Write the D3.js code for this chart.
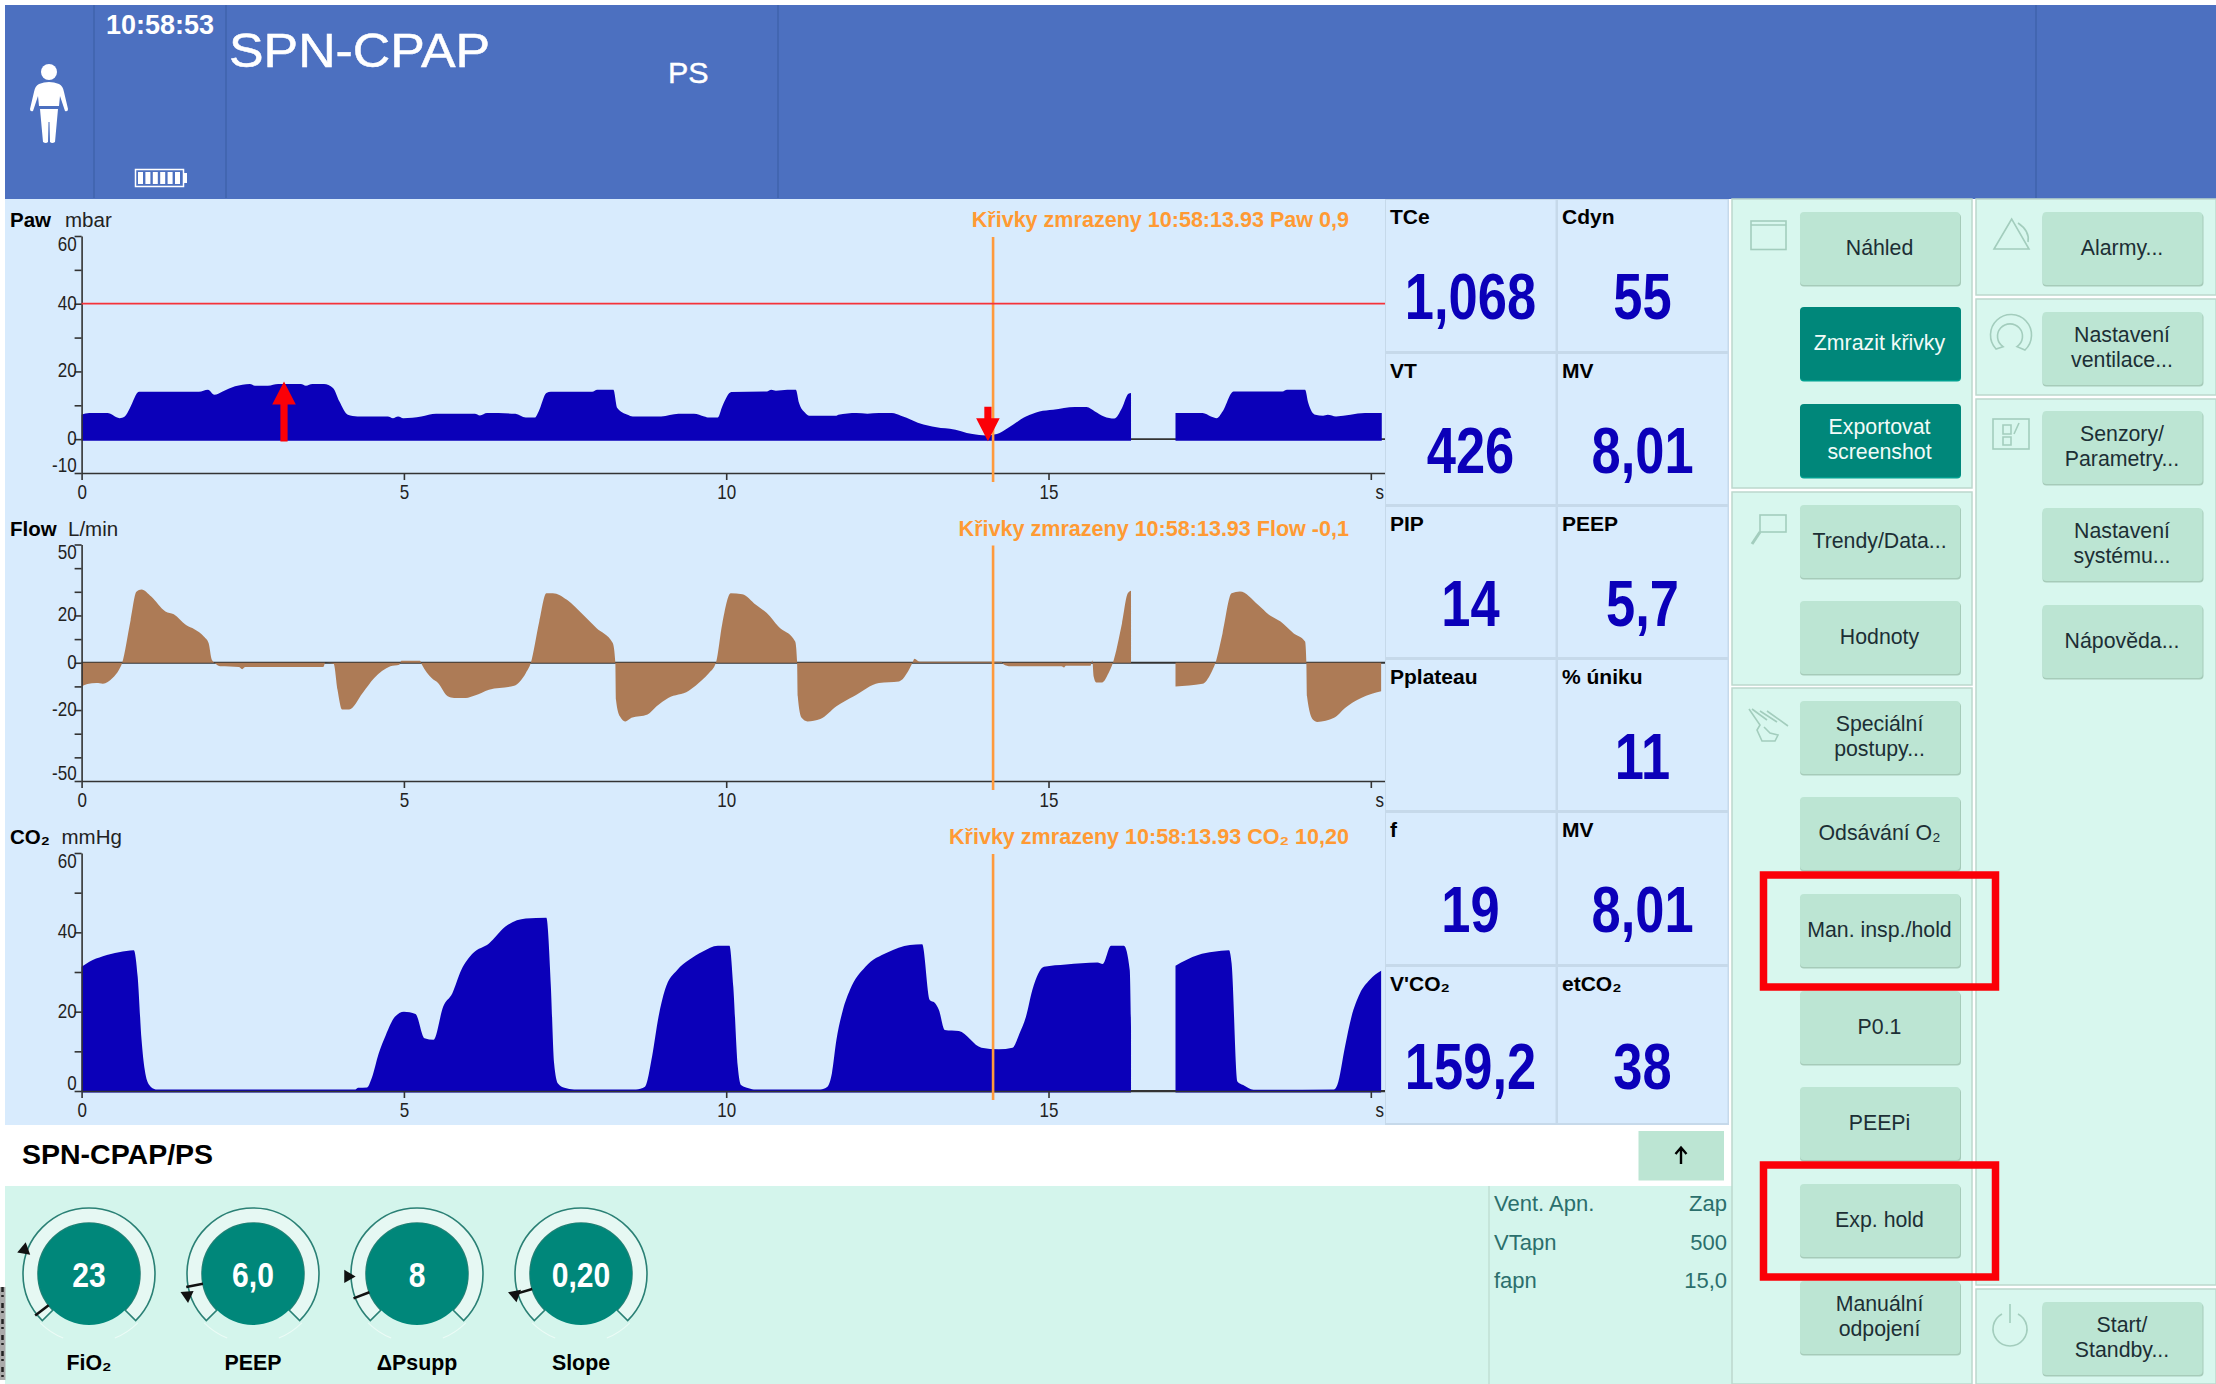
<!DOCTYPE html>
<html lang="cs">

<head>
  <meta charset="utf-8">
  <title>SPN-CPAP</title>
  <style>
    body {
      margin: 0;
      background: #fff;
    }

    svg {
      display: block;
      font-family: "Liberation Sans", Arial, sans-serif;
    }

    .tick text {
      font-family: "Liberation Sans", Arial, sans-serif;
      font-size: 20px;
      fill: #222;
    }

    .tick line,
    .domain {
      stroke: #333;
      stroke-width: 1.6;
    }
  </style>
</head>

<body>
  <div id="screen"></div>

  <script src="https://d3js.org/d3.v7.min.js"></script>
  <script>
    // Waveforms, null marks the gap in the recording
    var pawTimes = [0, .12, .40, .59, .67, .75, .89, 1.82, 1.96, 2.06, 2.18, 2.38, 2.61, 2.69, 2.89, 3.05, 3.40, 3.48, 3.58, 3.76, 3.90, 4.00, 4.13, 4.28, 4.75, 4.83, 4.91, 4.99, 5.27, 5.50, 6.10, 6.18, 6.29, 6.73, 6.89, 7.03, 7.09, 7.21, 7.28, 7.92, 8.00, 8.25, 8.31, 8.47, 8.55, 8.99, 9.26, 9.50, 9.66, 9.73, 9.87, 9.94, 10.08, 10.63, 10.70, 10.77, 10.95, 11.08, 11.13, 11.22, 11.29, 11.71, 11.74, 12.02, 12.19, 12.37, 12.57, 12.71, 13.06, 13.33, 13.47, 13.82, 14.03, 14.20, 14.37, 14.65, 14.86, 15.07, 15.41, 15.59, 15.72, 15.86, 16.02, 16.14, 16.24, 16.28, 16.29, 16.96, 16.97, 17.39, 17.52, 17.61, 17.70, 17.87, 18.63, 18.70, 18.98, 19.03, 19.14, 19.26, 19.33, 19.46, 19.91, 20.17];
    var pawValues = [7.2, 7.7, 7.7, 6.2, 6.7, 9.2, 14.0, 14.0, 14.6, 13.1, 14.0, 15.6, 16.3, 15.8, 15.8, 16.3, 16.3, 15.8, 16.3, 16.3, 15.1, 11.1, 7.2, 6.7, 6.7, 6.2, 6.7, 6.2, 6.7, 7.5, 7.5, 7.0, 7.7, 7.5, 6.4, 6.4, 8.2, 13.6, 14.0, 14.0, 14.6, 14.6, 9.2, 7.2, 6.7, 6.7, 7.5, 7.5, 6.7, 6.4, 6.4, 9.7, 13.9, 14.1, 14.6, 14.3, 14.6, 14.6, 10.7, 7.9, 6.9, 6.9, 7.2, 7.7, 7.5, 7.7, 7.7, 6.9, 4.3, 3.3, 3.1, 1.5, 1.1, 1.5, 3.3, 6.7, 8.2, 8.7, 9.5, 9.5, 8.2, 6.7, 6.1, 9.2, 13.4, 13.6, null, null, 7.7, 7.7, 6.7, 6.2, 8.2, 14.1, 14.1, 14.6, 14.6, 10.7, 7.2, 6.9, 7.2, 6.7, 7.7, 7.7];

    var flowTimes = [0, .09, .23, .33, .48, .58, .63, .76, .85, .93, 1.08, 1.30, 1.43, 1.62, 1.75, 1.90, 1.97, 2.02, 2.08, 2.15, 2.44, 2.49, 2.54, 3.75, 3.78, 3.91, 3.97, 4.04, 4.15, 4.36, 4.54, 4.79, 4.93, 4.96, 5.25, 5.28, 5.43, 5.53, 5.68, 5.78, 5.96, 6.10, 6.32, 6.71, 6.89, 6.97, 7.10, 7.21, 7.31, 7.53, 7.78, 7.99, 8.24, 8.28, 8.29, 8.35, 8.44, 8.53, 8.78, 8.92, 9.10, 9.42, 9.63, 9.73, 9.84, 9.94, 10.07, 10.25, 10.46, 10.63, 10.81, 11.07, 11.10, 11.11, 11.17, 11.26, 11.46, 11.71, 11.98, 12.37, 12.68, 12.82, 12.89, 12.92, 13.00, 14.27, 14.30, 14.41, 15.20, 15.24, 15.27, 15.65, 15.68, 15.70, 15.74, 15.83, 15.93, 16.00, 16.14, 16.23, 16.28, 16.29, 16.96, 16.97, 17.39, 17.52, 17.59, 17.70, 17.84, 17.97, 18.25, 18.42, 18.60, 18.80, 18.98, 19.00, 19.01, 19.10, 19.17, 19.43, 19.60, 19.85, 20.16];
    var flowValues = [-10, -9, -8.6, -8.9, -6.5, -3, 0, 18, 30, 31, 28, 21.7, 20.5, 16, 14.2, 11, 8.3, 1.3, -.4, -1.5, -1.8, -2.7, -1.8, -1.8, 0, -.4, -11.4, -19.8, -19.8, -12.8, -6.5, -1.5, -.8, .8, .8, -.8, -6.5, -8.6, -14.2, -14.9, -14.9, -13.9, -11.4, -9.7, -4.4, 0, 17.4, 29.4, 29.4, 26.6, 20.3, 14.6, 8.3, 0, -15.6, -22.6, -24.8, -23.3, -21.9, -18.4, -14.9, -11.8, -7.2, -4.4, 0, 16.7, 29.4, 29, 24.5, 21, 15.3, 9, 0, -14.2, -23.3, -24.8, -23.8, -18.4, -14.2, -8.6, -7.9, -3.7, 0, 1.7, .4, .4, -.6, -1.5, -1.5, -2, -1.3, -1.3, 1, -5.8, -8.3, -8.3, -4.4, 0, 16.7, 29.4, 30.4, null, null, -10, -8.9, -4.4, 0, 12.5, 29.4, 30.1, 24.5, 20.3, 17.4, 12.5, 9, 0, -14.2, -24, -25, -23.3, -19.1, -14.9, -12.1];

    var co2Times = [0, .12, .33, .58, .81, .87, .93, .98, 1.05, 1.15, 4.25, 4.29, 4.43, 4.50, 4.61, 4.72, 4.86, 5.00, 5.18, 5.32, 5.46, 5.61, 5.75, 5.89, 6.07, 6.32, 6.57, 6.89, 7.21, 7.28, 7.33, 7.39, 7.49, 7.64, 8.60, 8.74, 8.85, 8.95, 9.05, 9.24, 9.42, 9.63, 9.87, 10.05, 10.11, 10.18, 10.23, 10.32, 10.43, 11.46, 11.57, 11.64, 11.71, 11.81, 11.92, 12.16, 12.50, 12.85, 13.04, 13.16, 13.23, 13.30, 13.39, 13.61, 13.96, 14.23, 14.44, 14.55, 14.65, 14.75, 14.93, 15.27, 15.76, 15.84, 15.97, 16.17, 16.26, 16.28, 16.29, 16.96, 16.97, 17.32, 17.56, 17.80, 17.84, 17.93, 18.02, 18.18, 19.43, 19.48, 19.60, 19.70, 19.83, 19.98, 20.16];
    var co2Values = [31.3, 32.6, 34, 35, 35.5, 28.8, 12.9, 5.3, 1.5, .4, .4, .8, .9, 3.2, 9.5, 14.1, 18.7, 20, 19.4, 13.3, 12.9, 21.3, 24.6, 30.5, 34.7, 37.2, 41.4, 43.5, 43.7, 26.3, 7, 1.9, .8, .4, .4, 1.1, 8.7, 18.7, 25.5, 30.5, 33, 35.1, 36.6, 36.6, 26.3, 6.1, 1.5, .8, .4, .4, 1.1, 4.5, 12.9, 20.4, 25.5, 31.3, 34.9, 36.8, 37, 22.9, 22.3, 20.4, 15.4, 15.1, 10.9, 10.5, 10.9, 14.5, 18.7, 25.5, 31.3, 31.9, 32.4, 32, 36.6, 36.6, 30.5, 15.8, null, null, 31.6, 34.3, 35.1, 35.5, 32.2, 2.4, 1.5, .3, .4, 1.5, 11.2, 18.7, 24.6, 28, 30.3];

    // Axis ticks of the three plots
    var timeTicks = [0, 5, 10, 15, 20];
    var pawTicks = [60, 50, 40, 30, 20, 10, 0, -10];
    var pawLabels = [60, 40, 20, 0, -10];
    var flowTicks = [50, 40, 30, 20, 10, 0, -10, -20, -30, -40, -50];
    var flowLabels = [50, 20, 0, -20, -50];
    var co2Ticks = [60, 50, 40, 30, 20, 10, 0];
    var co2Labels = [60, 40, 20, 0];

    var pawLimit = 40;
    var cursorTime = 14.14;

    // Measured values panel
    var metricNames = ["TCe", "Cdyn", "VT", "MV", "PIP", "PEEP", "Pplateau", "% úniku", "f", "MV", "V'CO₂", "etCO₂"];
    var metricValues = ["1,068", "55", "426", "8,01", "14", "5,7", "", "11", "19", "8,01", "159,2", "38"];

    // Setting dials
    var dialNames = ["FiO₂", "PEEP", "ΔPsupp", "Slope"];
    var dialValues = ["23", "6,0", "8", "0,20"];
    var dialSetAngles = [-127.7, -101, -111, -107];
    var dialLimitAngles = [-69.5, -108, -92, -107.5];

    var apneaNames = ["Vent. Apn.", "VTapn", "fapn"];
    var apneaValues = ["Zap", "500", "15,0"];

    // Buttons, "|" breaks the line
    var middleButtons = ["Náhled", "Zmrazit křivky", "Exportovat|screenshot", "Trendy/Data...", "Hodnoty", "Speciální|postupy...", "Odsávání O₂", "Man. insp./hold", "P0.1", "PEEPi", "Exp. hold", "Manuální|odpojení"];
    var middleTops = [212, 307, 404, 505, 601, 701, 797, 894, 991, 1087, 1184, 1281];
    var rightButtons = ["Alarmy...", "Nastavení|ventilace...", "Senzory/|Parametry...", "Nastavení|systému...", "Nápověda...", "Start/|Standby..."];
    var rightTops = [212, 312, 411, 508, 605, 1302];
    var activeButtons = ["Zmrazit křivky", "Exportovat|screenshot"];
    var markedButtons = ["Man. insp./hold", "Exp. hold"];

    var svg = d3.select("#screen").append("svg")
      .attr("width", 2216)
      .attr("height", 1384);

    // Text helper, sx squeezes the glyphs like the stretched screenshot
    function addText(parent, x, y, str, size, opts) {
      opts = opts || {};
      return parent.append("text")
        .attr("transform", "translate(" + x + "," + y + ") scale(" + (opts.sx || 1) + ",1)")
        .attr("font-size", size)
        .attr("font-weight", opts.weight || "normal")
        .attr("fill", opts.fill || "#111")
        .attr("text-anchor", opts.anchor || "start")
        .text(str);
    }

    function addRect(parent, x, y, w, h, fill) {
      return parent.append("rect")
        .attr("x", x).attr("y", y)
        .attr("width", w).attr("height", h)
        .attr("fill", fill);
    }

    // ---- Header ----
    addRect(svg, 5, 5, 2211, 194, "#4c70c0");
    [94, 226, 778, 2036].forEach(function (x) {
      svg.append("line")
        .attr("x1", x).attr("x2", x).attr("y1", 5).attr("y2", 198)
        .attr("stroke", "#3f63ad").attr("stroke-width", 1.5);
    });
    addText(svg, 106, 34, "10:58:53", 27, { weight: "bold", fill: "#fff" });
    addText(svg, 229, 67, "SPN-CPAP", 48, { fill: "#fff", sx: 1.08 }).attr("stroke", "#fff").attr("stroke-width", .5);
    addText(svg, 668, 83, "PS", 29, { fill: "#fff", sx: 1.05 }).attr("stroke", "#fff").attr("stroke-width", .4);

    // Person icon
    svg.append("circle").attr("cx", 49).attr("cy", 72).attr("r", 8).attr("fill", "#fff");
    svg.append("path")
      .attr("fill", "#fff")
      .attr("d", "M39,84 Q49,80 59,84 Q63,86 64,92 L68,109 Q68,112 65,111 L60,96 L59,106 L39,106 L38,96 L33,111 Q30,112 30,109 L34,92 Q35,86 39,84 Z M40,109 L58,109 L57,120 L55,142 Q52,144 50,142 L49.5,122 L48.5,122 L48,142 Q46,144 43,142 L41,120 Z");

    // Battery icon
    svg.append("rect").attr("x", 135.5).attr("y", 169.5).attr("width", 48).attr("height", 17)
      .attr("fill", "none").attr("stroke", "#fff").attr("stroke-width", 1.5);
    addRect(svg, 184, 173, 3, 10, "#fff");
    d3.range(6).forEach(function (i) {
      addRect(svg, 138 + i * 7.4, 172, 5, 12, "#fff");
    });

    // ---- Waveform panel ----
    addRect(svg, 5, 199, 1380, 926, "#d8ebfd");

    var xScale = d3.scaleLinear().domain([0, 20.22]).range([81.6, 1385]);
    var tickSquash = .85;

    function drawPlot(cfg) {
      var g = svg.append("g");
      var yScale = d3.scaleLinear().domain(cfg.domain).range(cfg.range);
      var rows = cfg.times.map(function (t, i) { return { t: t, v: cfg.values[i] }; });
      var bottom = cfg.range[0];
      var top = cfg.range[1];

      // Zero line sits under the trace and shows through the gap
      g.append("line")
        .attr("x1", xScale(0)).attr("x2", xScale.range()[1])
        .attr("y1", yScale(0)).attr("y2", yScale(0))
        .attr("stroke", "#333").attr("stroke-width", 1.8);

      var area = d3.area()
        .defined(function (d) { return d.v !== null; })
        .curve(d3.curveMonotoneX)
        .x(function (d) { return xScale(d.t); })
        .y0(yScale(0) + cfg.under)
        .y1(function (d) { return yScale(d.v); });

      g.append("path")
        .attr("fill", cfg.color)
        .attr("d", area(rows));

      // Left axis, the end labels are pushed inwards on the device
      var yAxis = d3.axisLeft(yScale)
        .tickValues(cfg.ticks)
        .tickSize(7)
        .tickSizeOuter(0)
        .tickPadding(-2)
        .tickFormat(function (d) { return cfg.labels.indexOf(d) >= 0 ? d : ""; });
      var yAxisG = g.append("g")
        .attr("transform", "translate(" + xScale(0) + ",0)")
        .call(yAxis);
      yAxisG.selectAll(".tick text")
        .attr("x", -5 / tickSquash)
        .attr("transform", "scale(" + tickSquash + ",1)")
        .attr("dy", function (d) {
          if (d === cfg.domain[1]) return "0.72em";
          if (d === cfg.domain[0]) return "-0.1em";
          return "0.27em";
        });

      var xAxis = d3.axisBottom(xScale)
        .tickValues(timeTicks)
        .tickSize(7)
        .tickSizeOuter(0)
        .tickPadding(5)
        .tickFormat(function (d) { return d === 20 ? "s" : d; });
      var xAxisG = g.append("g")
        .attr("transform", "translate(0," + bottom + ")")
        .call(xAxis);
      xAxisG.selectAll(".tick text")
        .attr("transform", "scale(" + tickSquash + ",1)")
        .attr("dx", function (d) { return d === 20 ? 10 : 0; });

      addText(g, 10, top - 9, cfg.name, 20.5, { weight: "bold", fill: "#000" });
      addText(g, cfg.unitX, top - 9, cfg.unit, 20.5, { fill: "#222" });

      addText(g, 1349, top - 9, cfg.frozen, 22, { weight: "bold", fill: "#ff9a33", anchor: "end", sx: .98 });

      // Frozen cursor
      g.append("line")
        .attr("x1", xScale(cursorTime)).attr("x2", xScale(cursorTime))
        .attr("y1", top + 1).attr("y2", bottom + 9)
        .attr("stroke", "#ff9a3c").attr("stroke-width", 2.6);

      return yScale;
    }

    var pawScale = drawPlot({
      name: "Paw", unit: "mbar", unitX: 65, times: pawTimes, values: pawValues,
      domain: [-10, 60], range: [473, 236], ticks: pawTicks, labels: pawLabels,
      color: "#0b00b9", under: 1.5, frozen: "Křivky zmrazeny 10:58:13.93 Paw 0,9"
    });
    drawPlot({
      name: "Flow", unit: "L/min", unitX: 68, times: flowTimes, values: flowValues,
      domain: [-50, 50], range: [781, 544.5], ticks: flowTicks, labels: flowLabels,
      color: "#ad7b56", under: 0, frozen: "Křivky zmrazeny 10:58:13.93 Flow -0,1"
    });
    drawPlot({
      name: "CO₂", unit: "mmHg", unitX: 61.5, times: co2Times, values: co2Values,
      domain: [0, 60], range: [1091, 853], ticks: co2Ticks, labels: co2Labels,
      color: "#0b00b9", under: 1.5, frozen: "Křivky zmrazeny 10:58:13.93 CO₂ 10,20"
    });

    // Paw limit line
    svg.append("line")
      .attr("x1", xScale(0)).attr("x2", xScale.range()[1])
      .attr("y1", pawScale(pawLimit)).attr("y2", pawScale(pawLimit))
      .attr("stroke", "#f5333a").attr("stroke-width", 1.8);

    // Red arrows on the Paw trace, positioned in data units
    function drawArrow(time, tailValue, tipValue) {
      var x = xScale(time);
      var y0 = pawScale(tailValue);
      var y1 = pawScale(tipValue);
      var dir = y1 < y0 ? 1 : -1;
      var neck = y1 + dir * 23;
      svg.append("path")
        .attr("fill", "#fb0007")
        .attr("d", "M" + (x - 3.6) + "," + y0 + "L" + (x - 3.6) + "," + neck + "L" + (x - 11.8) + "," + neck +
          "L" + x + "," + y1 + "L" + (x + 11.8) + "," + neck + "L" + (x + 3.6) + "," + neck + "L" + (x + 3.6) + "," + y0 + "Z");
    }
    drawArrow(3.14, -.7, 17);
    drawArrow(14.06, 9.6, -.65);

    // ---- Measured values ----
    var tileTops = [199, 353, 506, 659, 812, 966, 1125];
    var tileLefts = [1385, 1557];
    metricNames.forEach(function (name, i) {
      var row = Math.floor(i / 2);
      var col = i % 2;
      var tileY = tileTops[row];
      var tileH = tileTops[row + 1] - tileY;
      addRect(svg, tileLefts[col], tileY, 172, tileH, "#c6d9ea");
      addRect(svg, tileLefts[col] + 1, tileY + 1, 169.5, tileH - 3, "#d8ebfd");
      addText(svg, tileLefts[col] + 5, tileY + 25, name, 21, { weight: "bold", fill: "#000" });
      // the last row sits a little lower on the device
      addText(svg, tileLefts[col] + 85.5, tileY + (row === 5 ? 123 : 119.5), metricValues[i], 64, { weight: "bold", fill: "#0b00b9", anchor: "middle", sx: .82 });
    });

    // ---- Mode bar and dial area ----
    addText(svg, 22, 1164, "SPN-CPAP/PS", 28.5, { weight: "bold", fill: "#000" });
    addRect(svg, 1638.5, 1131, 85.5, 49.5, "#bce5d3");
    svg.append("path")
      .attr("d", "M1681,1164 V1148 M1675.5,1154 L1681,1147.5 L1686.5,1154")
      .attr("fill", "none").attr("stroke", "#000").attr("stroke-width", 2.4);
    addRect(svg, 5, 1186, 1727, 198, "#d4f5ec");
    svg.append("line")
      .attr("x1", 1489).attr("x2", 1489).attr("y1", 1186).attr("y2", 1384)
      .attr("stroke", "#c0dfd4").attr("stroke-width", 1.5);

    // Scanned edge left of the dial area
    addRect(svg, 0, 1287, 5.5, 93, "#aaa");
    svg.append("line").attr("x1", 2.5).attr("x2", 2.5).attr("y1", 1287).attr("y2", 1380)
      .attr("stroke", "#222").attr("stroke-width", 2.5).attr("stroke-dasharray", "5 3 2 6");

    // Dials
    var dialCenters = d3.scaleLinear().domain([0, 3]).range([89, 581]);
    var dialTriangleTurn = [10, 175, 90, 170];
    var dialY = 1274;

    var ring = d3.arc().innerRadius(51).outerRadius(66)
      .startAngle(-135 * Math.PI / 180).endAngle(135 * Math.PI / 180);
    var faintArc = d3.arc().innerRadius(68.5).outerRadius(69.5);

    function polar(angle, r) {
      var a = angle * Math.PI / 180;
      return [r * Math.sin(a), -r * Math.cos(a)];
    }

    dialNames.forEach(function (name, i) {
      var g = svg.append("g")
        .attr("transform", "translate(" + dialCenters(i) + "," + dialY + ")");

      g.append("path").attr("d", ring()).attr("fill", "#e6f8f3")
        .attr("stroke", "#2a8075").attr("stroke-width", 1.6);
      g.append("path")
        .attr("d", faintArc({ startAngle: 135 * Math.PI / 180, endAngle: 158 * Math.PI / 180 }))
        .attr("fill", "#ecfbf6");
      g.append("path")
        .attr("d", faintArc({ startAngle: -158 * Math.PI / 180, endAngle: -135 * Math.PI / 180 }))
        .attr("fill", "#ecfbf6");
      g.append("circle").attr("r", 51).attr("fill", "#00877a");

      // Set value tick
      var p0 = polar(dialSetAngles[i], 51);
      var p1 = polar(dialSetAngles[i], 68);
      g.append("line")
        .attr("x1", p0[0]).attr("y1", p0[1]).attr("x2", p1[0]).attr("y2", p1[1])
        .attr("stroke", "#111").attr("stroke-width", 2.6);

      // Limit marker
      var t = polar(dialLimitAngles[i], 69);
      g.append("path")
        .attr("d", d3.symbol().type(d3.symbolTriangle).size(75)())
        .attr("transform", "translate(" + t[0] + "," + t[1] + ") rotate(" + dialTriangleTurn[i] + ")")
        .attr("fill", "#111");

      addText(g, 0, 12.7, dialValues[i], 35, { weight: "bold", fill: "#fff", anchor: "middle", sx: .86 });
      addText(g, 0, 96, name, 22.5, { weight: "bold", fill: "#000", anchor: "middle", sx: .95 });
    });

    // Apnea settings
    apneaNames.forEach(function (name, i) {
      var y = 1211 + i * 38.5;
      addText(svg, 1494, y, name, 22, { fill: "#2b6f6c" });
      addText(svg, 1727, y, apneaValues[i], 22, { fill: "#2b6f6c", anchor: "end" });
    });

    // ---- Button panels ----
    var sections = [
      [1732, 199, 240, 289], [1732, 492, 240, 193], [1732, 688, 240, 696],
      [1976, 199, 240, 96], [1976, 299, 240, 96], [1976, 399, 240, 886], [1976, 1289, 240, 95]
    ];
    sections.forEach(function (s) {
      svg.append("rect")
        .attr("x", s[0]).attr("y", s[1]).attr("width", s[2]).attr("height", s[3])
        .attr("fill", "#d8f7ee").attr("stroke", "#bcd8cd").attr("stroke-width", 1.5);
    });

    function drawButton(label, x, y) {
      var active = activeButtons.indexOf(label) >= 0;
      var w = 161;
      var h = 73;
      svg.append("rect")
        .attr("x", x).attr("y", y + 1.5).attr("width", w).attr("height", h)
        .attr("rx", 4)
        .attr("fill", active ? "#00a08f" : "#a6cbb9");
      svg.append("rect")
        .attr("x", x).attr("y", y).attr("width", w - (active ? 0 : 1)).attr("height", h)
        .attr("rx", 4)
        .attr("fill", active ? "#00877a" : "#bce5d3");

      var lines = label.split("|");
      var color = active ? "#f2fbf8" : "#1c2f35";
      lines.forEach(function (line, i) {
        var dy = lines.length === 1 ? 43 : 30 + i * 24.5;
        addText(svg, x + 79.5, y + dy, line, 21.3, { fill: color, anchor: "middle" });
      });
    }

    middleButtons.forEach(function (label, i) { drawButton(label, 1800, middleTops[i]); });
    rightButtons.forEach(function (label, i) { drawButton(label, 2042.5, rightTops[i]); });

    // Red boxes around the two hold buttons
    markedButtons.forEach(function (label) {
      var top = middleTops[middleButtons.indexOf(label)];
      svg.append("rect")
        .attr("x", 1763.5).attr("y", top - 19)
        .attr("width", 232).attr("height", 112)
        .attr("fill", "none")
        .attr("stroke", "#fb0007").attr("stroke-width", 7.5);
    });

    // Line icons next to the buttons
    var icon = svg.append("g")
      .attr("fill", "none")
      .attr("stroke", "#a3cdbd")
      .attr("stroke-width", 1.6);
    icon.append("rect").attr("x", 1751).attr("y", 221).attr("width", 35).attr("height", 28.5);
    icon.append("line").attr("x1", 1751).attr("x2", 1786).attr("y1", 225).attr("y2", 225);
    icon.append("path").attr("d", "M2011.7,219 L1994,249 L2029,249 Z M2018,223 Q2030,231 2028,242");
    icon.append("path").attr("d", "M1996,349 A20.5,20.5 0 1 1 2025,350 L2017,346.7 A12.5,12.5 0 1 0 2003,346.7 Z");
    icon.append("rect").attr("x", 1993).attr("y", 419).attr("width", 36).attr("height", 30);
    icon.append("path").attr("d", "M2003,425 h8 v9 h-8 Z M2003,437 h8 v8 h-8 Z M2014,434 L2019,423");
    icon.append("rect").attr("x", 1760).attr("y", 515).attr("width", 26).attr("height", 17);
    icon.append("path").attr("d", "M1760,532 L1752,544").attr("stroke-width", 3);
    icon.append("path").attr("d", "M1749,709 L1760,725 L1757,730 L1762,741 L1775,741 L1778,735 L1770,733 L1764,727 M1752,709 L1767,720 M1760,711 L1777,722 M1767,711 L1788,726");
    icon.append("path").attr("d", "M2002,1314 A17,17 0 1 0 2018,1314");
    icon.append("line").attr("x1", 2010).attr("x2", 2010).attr("y1", 1304).attr("y2", 1323);
  </script>
</body>

</html>
